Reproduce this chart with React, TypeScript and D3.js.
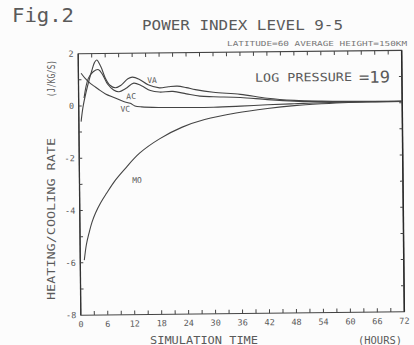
import * as d3 from "d3";
import { useEffect } from "react";

// tick labels
const xTickLabels = [0, 6, 12, 18, 24, 30, 36, 42, 48, 54, 60, 66, 72];
const yTickLabels = [2, 0, -2, -4, -6, -8];

// series (hours, J/kg/s)
const hoursVA = [0.5, 1, 2, 3, 3.6, 4.1, 5, 6, 7, 8.2, 9.5, 11, 12, 13.5, 15.5, 18, 20, 22, 24, 26, 30, 36, 42, 48, 54, 60, 66, 72];
const rateVA = [-0.6, 0.0, 0.75, 1.35, 1.65, 1.75, 1.5, 1.05, 0.78, 0.68, 0.78, 1.02, 1.08, 1.0, 0.78, 0.66, 0.7, 0.72, 0.66, 0.58, 0.47, 0.38, 0.22, 0.13, 0.09, 0.07, 0.06, 0.05];

const hoursAC = [1.2, 2.2, 3.3, 4.5, 5.5, 6.5, 7.8, 9, 10.5, 12.3, 14, 16, 18, 21, 24, 27, 30, 36, 42, 48, 54, 60, 72];
const rateAC = [0.3, 1.05, 1.3, 1.38, 1.15, 0.82, 0.6, 0.53, 0.65, 0.85, 0.75, 0.56, 0.5, 0.52, 0.42, 0.33, 0.3, 0.26, 0.17, 0.1, 0.07, 0.06, 0.05];

const hoursVC = [0.6, 1.5, 2.5, 3.5, 4.5, 6, 8, 10, 11.5, 12.5, 14, 18, 24, 30, 36, 42, 48, 54, 60, 72];
const rateVC = [1.25, 1.05, 0.88, 0.75, 0.62, 0.45, 0.3, 0.15, 0.08, -0.02, -0.06, -0.09, -0.1, -0.1, -0.07, -0.03, 0.0, 0.03, 0.04, 0.05];

const hoursMO = [0.9, 1.4, 2, 2.7, 3.5, 4.7, 6, 8, 10, 13.5, 18, 23, 28, 35, 42, 48, 54, 60, 66, 72];
const rateMO = [-5.9, -5.3, -4.87, -4.45, -4.1, -3.7, -3.35, -2.85, -2.45, -1.82, -1.28, -0.85, -0.57, -0.33, -0.17, -0.07, -0.01, 0.03, 0.04, 0.05];

const series = [
  { name: "VA", hours: hoursVA, rate: rateVA, lx: 153, ly: 79 },
  { name: "AC", hours: hoursAC, rate: rateAC, lx: 132, ly: 95 },
  { name: "VC", hours: hoursVC, rate: rateVC, lx: 126, ly: 107.5 },
  { name: "MO", hours: hoursMO, rate: rateMO, lx: 137, ly: 179 },
];

const W = 414;
const H = 345;
const ink = "#444";
const textInk = "#5a5a5a";
const font = "'DejaVu Sans Mono', 'Liberation Mono', monospace";

export default function App() {
  useEffect(() => {
    document.body.style.margin = "0";
  }, []);

  const x = d3.scaleLinear().domain([0, 72]).range([79.5, 403]);
  const y = d3.scaleLinear().domain([-8, 2]).range([313.5, 52]);

  const line = d3
    .line<[number, number]>()
    .x((d) => x(d[0]))
    .y((d) => y(d[1]))
    .curve(d3.curveCatmullRom.alpha(0.5));

  const xMinor = d3.range(3, 72, 3);
  const yMinor = d3.range(-7, 2, 1);

  const [x0, x1] = x.range();
  const [yb, yt] = y.range();

  return (
    <svg width={W} height={H} style={{ display: "block", background: "#fcfcfc" }} fontFamily={font}>
      <text x={12} y={22} fontSize={19} fill={textInk} textLength={62} lengthAdjust="spacingAndGlyphs">Fig.2</text>
      <text x={142} y={30} fontSize={14} fill={textInk} textLength={201} lengthAdjust="spacingAndGlyphs">POWER INDEX LEVEL 9-5</text>
      <text x={227} y={45.5} fontSize={7} fill="#777" textLength={180} lengthAdjust="spacingAndGlyphs">LATITUDE=60  AVERAGE HEIGHT=150KM</text>

      {/* axis titles */}
      <text x={150} y={344} fontSize={10} fill={textInk} textLength={108} lengthAdjust="spacingAndGlyphs">SIMULATION TIME</text>
      <text x={358} y={344} fontSize={10} fill={textInk} textLength={44} lengthAdjust="spacingAndGlyphs">(HOURS)</text>
      <text transform="translate(55,300) rotate(-90)" fontSize={10} fill={textInk} textLength={162} lengthAdjust="spacingAndGlyphs">HEATING/COOLING RATE</text>
      <text transform="translate(55,97) rotate(-90)" fontSize={10} fill={textInk} textLength={37} lengthAdjust="spacingAndGlyphs">(J/KG/S)</text>

      <g transform="rotate(-0.58 242 183)">
        {/* frame */}
        <rect x={x0} y={yt} width={x1 - x0} height={yb - yt} fill="none" stroke={ink} strokeWidth={1} />
        <line x1={x1} x2={x1} y1={yt} y2={yb} stroke="#2a2a2a" strokeWidth={1.5} />
        <line x1={x0} x2={x0} y1={yt} y2={yb} stroke="#333" strokeWidth={1.3} />

        {/* inward ticks */}
        {xMinor.map((h) => (
          <g key={"xt" + h}>
            <line x1={x(h)} x2={x(h)} y1={yt} y2={yt + 4} stroke={ink} strokeWidth={1} />
            <line x1={x(h)} x2={x(h)} y1={yb} y2={yb - 4} stroke={ink} strokeWidth={1} />
          </g>
        ))}
        {yMinor.map((v) => (
          <g key={"yt" + v}>
            <line x1={x0} x2={x0 + 3} y1={y(v)} y2={y(v)} stroke={ink} strokeWidth={1} />
            <line x1={x1} x2={x1 - 3} y1={y(v)} y2={y(v)} stroke={ink} strokeWidth={1} />
          </g>
        ))}

        {/* tick labels */}
        {xTickLabels.map((h) => (
          <text key={"xl" + h} x={x(h)} y={325.5} fontSize={8.5} textAnchor="middle" fill={textInk}>{h}</text>
        ))}
        {yTickLabels.map((v) => (
          <text key={"yl" + v} x={75} y={y(v) + 3} fontSize={8.5} textAnchor="end" fill={textInk}>{v}</text>
        ))}

        {/* curves */}
        {series.map((s) => (
          <path
            key={s.name}
            d={line(s.hours.map((h, i) => [h, s.rate[i]] as [number, number])) || ""}
            fill="none"
            stroke={ink}
            strokeWidth={1.1}
          />
        ))}
        {series.map((s) => (
          <text key={"lb" + s.name} x={s.lx} y={s.ly + 3} fontSize={8} textAnchor="middle" fill={textInk}>{s.name}</text>
        ))}

        <text x={256} y={82} fontSize={11.5} fill={textInk} textLength={97} lengthAdjust="spacingAndGlyphs">LOG PRESSURE</text>
        <text x={360} y={84} fontSize={16} fill={textInk} textLength={31} lengthAdjust="spacingAndGlyphs">=19</text>
      </g>
    </svg>
  );
}
